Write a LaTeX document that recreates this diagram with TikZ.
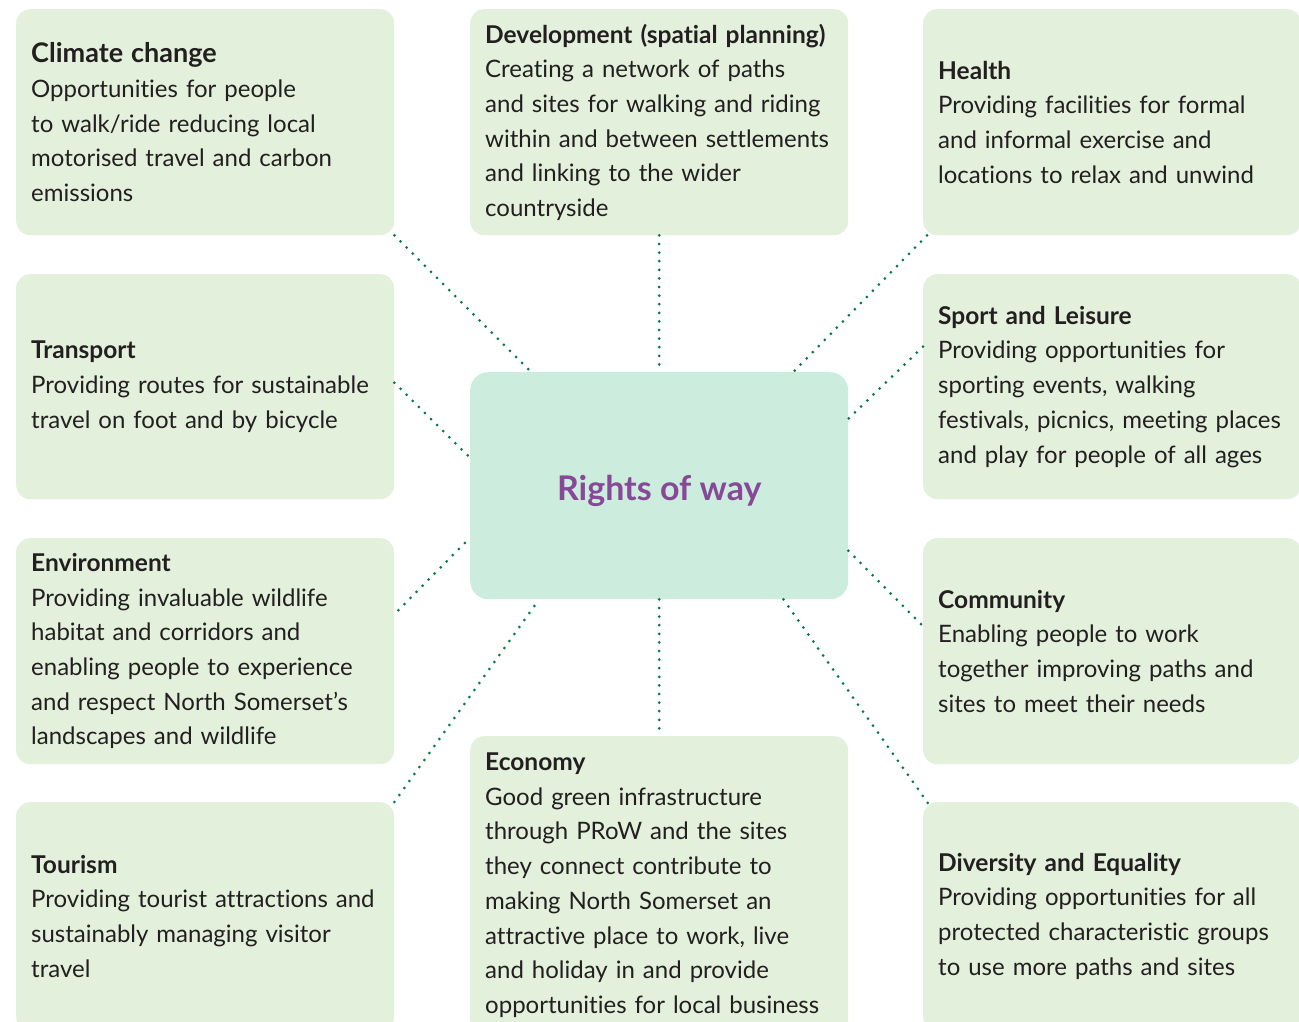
\documentclass[tikz,border=0pt]{standalone}
\usepackage{fontspec}
\setmainfont{Lato}[Ligatures=NoCommon]
\usetikzlibrary{calc}
\definecolor{boxgreen}{RGB}{227,240,220}
\definecolor{centergreen}{RGB}{204,237,222}
\definecolor{dotgreen}{RGB}{0,122,64}
\definecolor{txt}{RGB}{35,31,32}
\definecolor{rwpurple}{RGB}{135,73,151}
\newcommand{\ttl}[1]{{\fontsize{24.5}{34.7}\selectfont\bfseries #1}}
\tikzset{
  topic/.style={fill=boxgreen, draw=none, rounded corners=14pt, anchor=north west,
    text width=348pt, inner xsep=15pt, inner ysep=0pt, align=left, text=txt,
    font=\fontsize{24}{34.7}\selectfont},
  hub/.style={fill=centergreen, draw=none, rounded corners=18pt, anchor=north west,
    minimum width=378pt, minimum height=227pt, inner sep=0pt, text=rwpurple,
    font=\fontsize{34}{40}\selectfont\bfseries},
  link/.style={draw=dotgreen, line width=3pt, line cap=round, dash pattern=on 0pt off 8.6pt},
}
\begin{document}
\begin{tikzpicture}[x=1pt,y=-1pt]
\useasboundingbox (0,0) rectangle (1299,1022);
% boxes
\node[topic, minimum height=226pt] (clim) at (16,9) {{\fontsize{27}{34.7}\selectfont\bfseries Climate change}\\Opportunities for people\\to walk/ride reducing local\\motorised travel and carbon\\emissions};
\node[topic, minimum height=226pt] (dev) at (470,9) {\ttl{Development (spatial planning)}\\Creating a network of paths\\and sites for walking and riding\\within and between settlements\\and linking to the wider\\countryside};
\node[topic, minimum height=226pt] (health) at (923,9) {\ttl{Health}\\Providing facilities for formal\\and informal exercise and\\locations to relax and unwind};
\node[topic, minimum height=225pt] (trans) at (16,274) {\ttl{Transport}\\Providing routes for sustainable\\travel on foot and by bicycle};
\node[topic, minimum height=225pt] (sport) at (923,274) {\ttl{Sport and Leisure}\\Providing opportunities for\\sporting events, walking\\festivals, picnics, meeting places\\and play for people of all ages};
\node[topic, minimum height=226pt] (env) at (16,538) {\ttl{Environment}\\Providing invaluable wildlife\\habitat and corridors and\\enabling people to experience\\and respect North Somerset’s\\landscapes and wildlife};
\node[topic, minimum height=226pt] (comm) at (923,538) {\ttl{Community}\\Enabling people to work\\together improving paths and\\sites to meet their needs};
\node[topic, minimum height=228pt] (tour) at (16,802) {\ttl{Tourism}\\Providing tourist attractions and\\sustainably managing visitor\\travel};
\node[topic, minimum height=298pt] (eco) at (470,736) {\ttl{Economy}\\Good green infrastructure\\through PRoW and the sites\\they connect contribute to\\making North Somerset an\\attractive place to work, live\\and holiday in and provide\\opportunities for local business};
\node[topic, minimum height=228pt] (div) at (923,802) {\ttl{Diversity and Equality}\\Providing opportunities for all\\protected characteristic groups\\to use more paths and sites};
% hub
\node[hub] (rw) at (470,372) {\raisebox{-15pt}[0pt][0pt]{Rights of way}};
% connectors
\draw[link] (clim.south east) -- ($(rw.north west)+(61,0)$);
\draw[link] (dev.south) -- (rw.north);
\draw[link] ($(health.south west)+(4,0)$) -- ($(rw.north east)+(-55,0)$);
\draw[link] ($(trans.east)+(0,-4)$) -- ($(rw.west)+(0,-28)$);
\draw[link] ($(sport.west)+(0,-40)$) -- ($(rw.east)+(0,-67)$);
\draw[link] ($(env.east)+(4,-41)$) -- ($(rw.west)+(0,52)$);
\draw[link] ($(rw.east)+(0,65)$) -- ($(comm.west)+(0,-25)$);
\draw[link] (tour.north east) -- ($(rw.south west)+(69,0)$);
\draw[link] (rw.south) -- (eco.north);
\draw[link] ($(rw.south east)+(-65,0)$) -- ($(div.north west)+(7,4)$);
\end{tikzpicture}
\end{document}
